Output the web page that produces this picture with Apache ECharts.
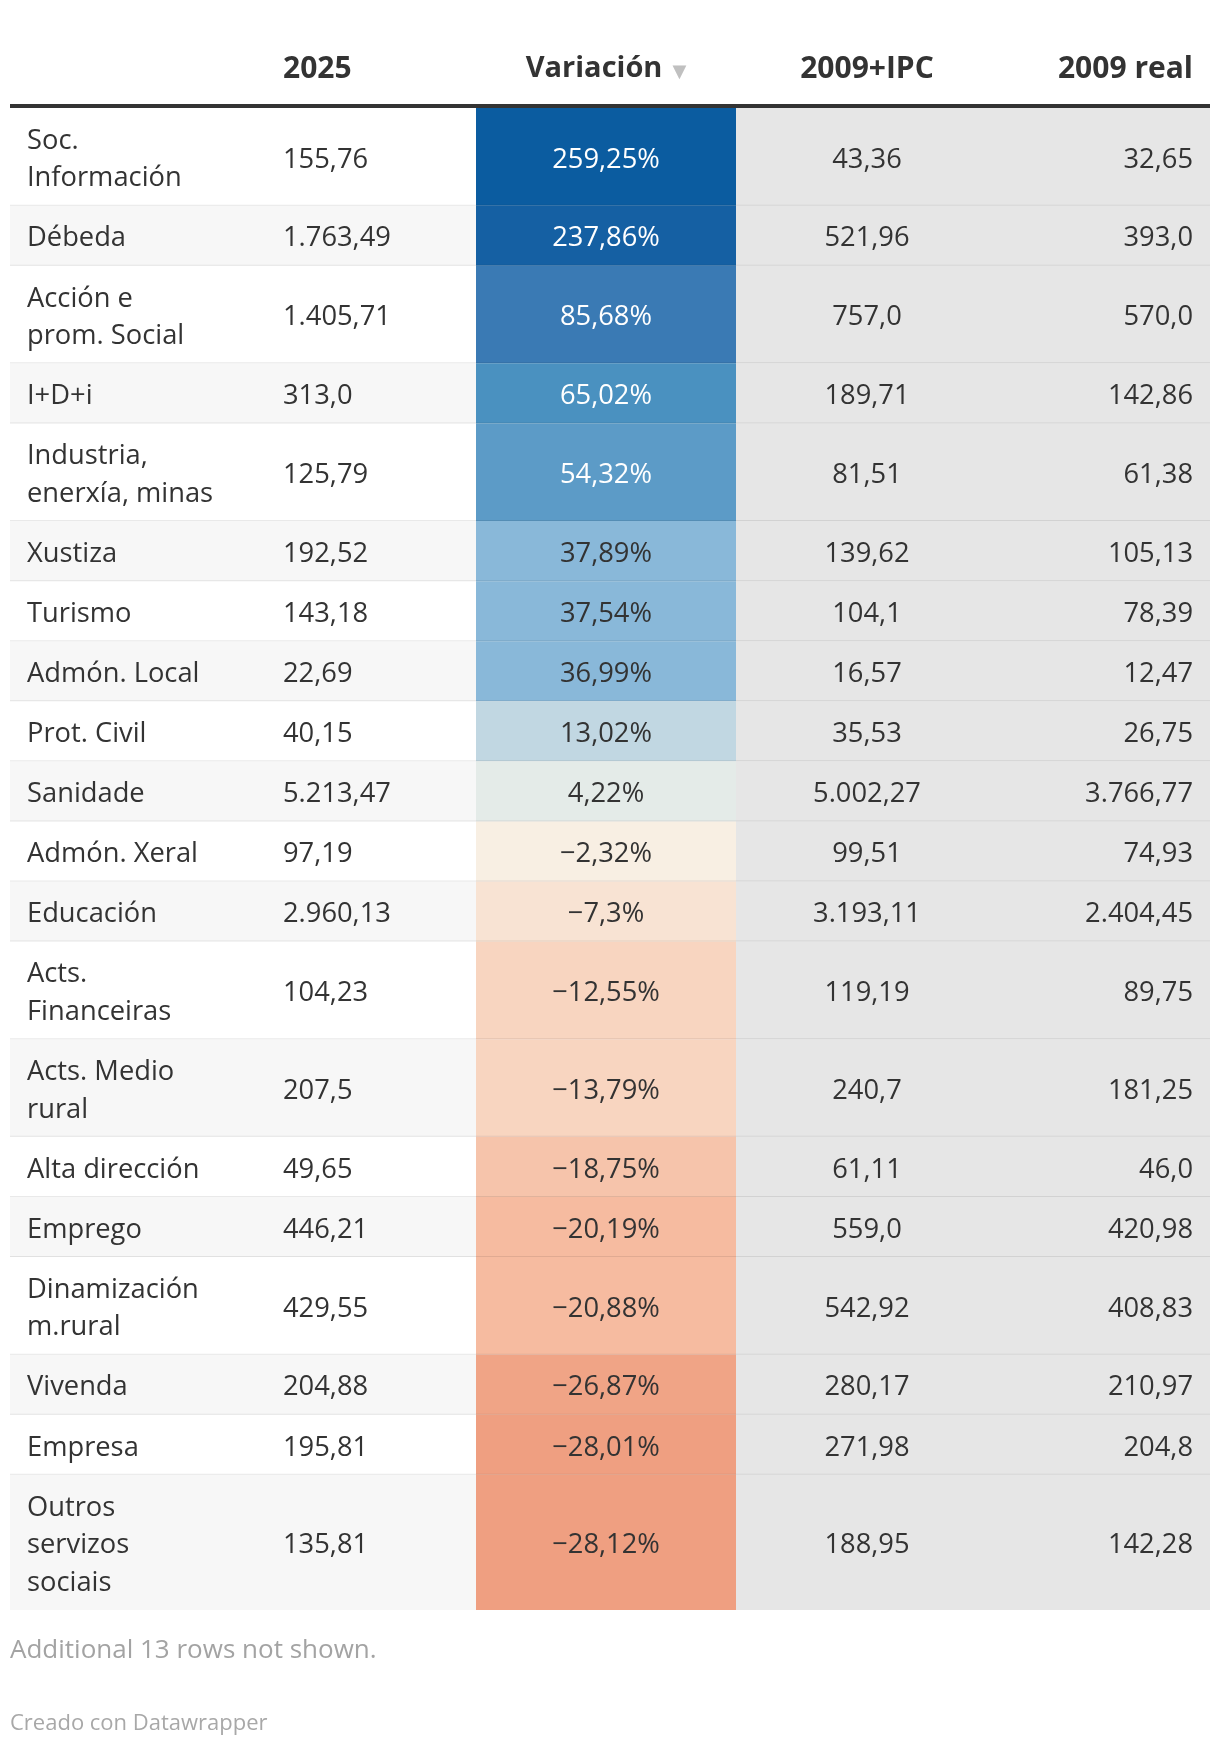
<!DOCTYPE html>
<html><head><meta charset="utf-8">
<script src="https://cdn.jsdelivr.net/npm/echarts@6/dist/echarts.min.js"></script>
<style>html,body{margin:0;padding:0;background:#fff}#c{width:1220px;height:1746px}</style>
</head><body><div id="c"></div>
<script>
// ---------- DATA ----------
const headers = ['', '2025', 'Variación', '2009+IPC', '2009 real'];
const categories = [
  'Soc.\nInformación', 'Débeda', 'Acción e\nprom. Social', 'I+D+i', 'Industria,\nenerxía, minas',
  'Xustiza', 'Turismo', 'Admón. Local', 'Prot. Civil', 'Sanidade',
  'Admón. Xeral', 'Educación', 'Acts.\nFinanceiras', 'Acts. Medio\nrural', 'Alta dirección',
  'Emprego', 'Dinamización\nm.rural', 'Vivenda', 'Empresa', 'Outros\nservizos\nsociais'
];
const v2025 = [155.76, 1763.49, 1405.71, 313.0, 125.79, 192.52, 143.18, 22.69, 40.15, 5213.47,
  97.19, 2960.13, 104.23, 207.5, 49.65, 446.21, 429.55, 204.88, 195.81, 135.81];
const variacion = [259.25, 237.86, 85.68, 65.02, 54.32, 37.89, 37.54, 36.99, 13.02, 4.22,
  -2.32, -7.3, -12.55, -13.79, -18.75, -20.19, -20.88, -26.87, -28.01, -28.12];
const ipc2009 = [43.36, 521.96, 757.0, 189.71, 81.51, 139.62, 104.1, 16.57, 35.53, 5002.27,
  99.51, 3193.11, 119.19, 240.7, 61.11, 559.0, 542.92, 280.17, 271.98, 188.95];
const real2009 = [32.65, 393.0, 570.0, 142.86, 61.38, 105.13, 78.39, 12.47, 26.75, 3766.77,
  74.93, 2404.45, 89.75, 181.25, 46.0, 420.98, 408.83, 210.97, 204.8, 142.28];
const footnote = 'Additional 13 rows not shown.';
const credit = 'Creado con Datawrapper';

// ---------- HELPERS ----------
function fmt(v) {
  let s = Math.abs(v).toFixed(2);
  if (s.endsWith('0')) s = s.slice(0, -1);
  let parts = s.split('.');
  let ip = parts[0].replace(/\B(?=(\d{3})+(?!\d))/g, '.');
  return (v < 0 ? '\u2212' : '') + ip + ',' + parts[1];
}
const rows = [];
let acc = 0;
categories.forEach((c, i) => {
  const n = c.split('\n').length;
  const span = 1 + 0.625 * (n - 1);
  rows.push([i, acc, acc + span, variacion[i]]);
  acc += span;
});
const total = acc;

// column layout (x in grid units 0..1200)
const L = { label: 17, c2025: 273, varL: 466, varR: 726, varC: 596, ipcC: 857, realR: 1183, end: 1200 };
const FONT = '"Open Sans", sans-serif';
const FS = 27.3, LH = 37.5, TXT = '#333333';

const chart = echarts.init(document.getElementById('c'), null, { renderer: 'canvas' });
chart.setOption({
  backgroundColor: '#ffffff',
  animation: false,
  grid: { left: 10, top: 108, width: 1200, height: 1502 },
  xAxis: { type: 'value', min: 0, max: 1200, show: false },
  yAxis: { type: 'value', min: 0, max: total, inverse: true, show: false },
  visualMap: {
    type: 'piecewise', show: false, seriesIndex: 0, dimension: 3,
    pieces: [
      { gte: 240, color: '#0b5ca0' },
      { gte: 200, lt: 240, color: '#1560a3' },
      { gte: 70, lt: 200, color: '#3a7ab4' },
      { gte: 60, lt: 70, color: '#4a91c0' },
      { gte: 45, lt: 60, color: '#5c9bc7' },
      { gte: 20, lt: 45, color: '#89b8d9' },
      { gte: 8, lt: 20, color: '#c1d7e2' },
      { gte: 0, lt: 8, color: '#e4ebe8' },
      { gte: -5, lt: 0, color: '#f8efe3' },
      { gte: -10, lt: -5, color: '#f8e3d3' },
      { gte: -16, lt: -10, color: '#f8d5c0' },
      { gte: -19.5, lt: -16, color: '#f6c4ab' },
      { gte: -24, lt: -19.5, color: '#f6bba0' },
      { gte: -27.5, lt: -24, color: '#f0a486' },
      { lt: -27.5, color: '#ef9f81' }
    ]
  },
  series: [{
    type: 'custom',
    data: rows,
    clip: false,
    renderItem: function (params, api) {
      const i = api.value(0), y0 = api.value(1), y1 = api.value(2), v = api.value(3);
      const X = x => api.coord([x, y0])[0];
      const top = api.coord([0, y0])[1], bot = api.coord([0, y1])[1];
      const h = bot - top, mid = (top + bot) / 2 + 3;
      const kids = [
        { type: 'rect', shape: { x: X(0), y: top, width: X(L.varL) - X(0), height: h }, style: { fill: i % 2 ? '#f7f7f7' : '#ffffff' } },
        { type: 'rect', shape: { x: X(L.varL), y: top, width: X(L.varR) - X(L.varL), height: h }, style: { fill: api.visual('color') } },
        { type: 'rect', shape: { x: X(L.varR), y: top, width: X(L.end) - X(L.varR), height: h }, style: { fill: '#e6e6e6' } }
      ];
      if (i < categories.length - 1) {
        kids.push({ type: 'rect', shape: { x: X(0), y: bot - 1, width: X(L.end) - X(0), height: 2 }, style: { fill: 'rgba(0,0,0,0.085)' } });
      }
      const t = (text, x, align, fill) => ({
        type: 'text',
        style: { text: text, x: x, y: mid, align: align, verticalAlign: 'middle', fill: fill || TXT, fontSize: FS, fontFamily: FONT, lineHeight: LH }
      });
      kids.push(t(categories[i], X(L.label), 'left'));
      kids.push(t(fmt(v2025[i]), X(L.c2025), 'left'));
      kids.push(t(fmt(v) + '%', X(L.varC), 'center', v >= 45 ? '#ffffff' : TXT));
      kids.push(t(fmt(ipc2009[i]), X(L.ipcC), 'center'));
      kids.push(t(fmt(real2009[i]), X(L.realR), 'right'));
      return { type: 'group', children: kids };
    }
  }],
  graphic: [
    { type: 'text', style: { text: headers[1], x: 10 + L.c2025, y: 69, align: 'left', verticalAlign: 'middle', fill: TXT, fontSize: 30, fontWeight: 'bold', fontFamily: FONT } },
    { type: 'text', style: { text: '{a|' + headers[2] + '}{b|▼}', x: 10 + L.varC, y: 69, align: 'center', verticalAlign: 'middle',
        rich: { a: { fill: TXT, fontSize: 29, fontWeight: 'bold', fontFamily: FONT }, b: { fill: '#c0c0c0', fontSize: 18, fontFamily: 'DejaVu Sans', padding: [6, 0, 0, 10] } } } },
    { type: 'text', style: { text: headers[3], x: 10 + L.ipcC, y: 69, align: 'center', verticalAlign: 'middle', fill: TXT, fontSize: 30, fontWeight: 'bold', fontFamily: FONT } },
    { type: 'text', style: { text: headers[4], x: 10 + L.realR, y: 69, align: 'right', verticalAlign: 'middle', fill: TXT, fontSize: 30, fontWeight: 'bold', fontFamily: FONT } },
    { type: 'rect', shape: { x: 10, y: 104, width: 1200, height: 4 }, style: { fill: '#333333' } },
    { type: 'text', style: { text: footnote, x: 10, y: 1651, align: 'left', verticalAlign: 'middle', fill: '#a3a3a3', fontSize: 26, fontFamily: FONT } },
    { type: 'text', style: { text: credit, x: 10, y: 1724, align: 'left', verticalAlign: 'middle', fill: '#a8a8a8', fontSize: 22, fontFamily: FONT } }
  ]
});
</script></body></html>
